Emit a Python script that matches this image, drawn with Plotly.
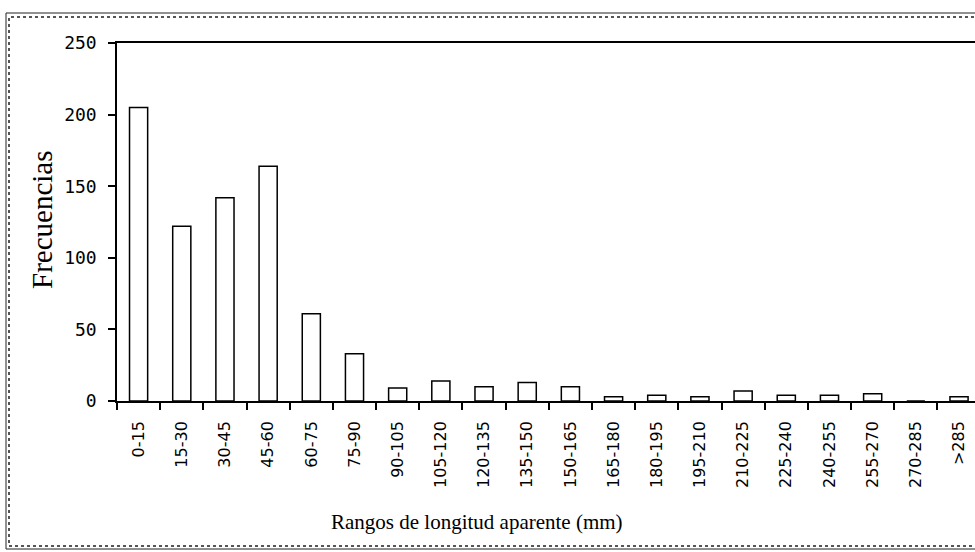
import plotly.graph_objects as go

categories = ["0-15", "15-30", "30-45", "45-60", "60-75", "75-90", "90-105", "105-120",
              "120-135", "135-150", "150-165", "165-180", "180-195", "195-210", "210-225",
              "225-240", "240-255", "255-270", "270-285", ">285"]
frecuencias = [205, 122, 142, 164, 61, 33, 9, 14, 10, 13, 10, 3, 4, 3, 7, 4, 4, 5, 0, 3]
y_ticks = [0, 50, 100, 150, 200, 250]

W, H = 975, 552
L, T, B = 117, 43, 151
plot_w = W - L
plot_h = H - T - B


def px_x(x):
    return (x - L) / plot_w


def px_y(y):
    return (H - B - y) / plot_h


fig = go.Figure()
fig.add_trace(go.Bar(
    x=categories, y=frecuencias,
    marker=dict(color="white", line=dict(color="black", width=1.5)),
    width=0.42,
))

fig.update_layout(
    width=W, height=H,
    margin=dict(l=L, r=0, t=T, b=B),
    paper_bgcolor="white", plot_bgcolor="white",
    showlegend=False,
    font=dict(color="black"),
)
fig.update_xaxes(
    type="category", range=[-0.5, 19.37],
    tickson="boundaries", ticks="outside", ticklen=7, tickwidth=1.5, tickcolor="black",
    tickangle=-90, tickfont=dict(family="DejaVu Sans", size=16, color="black"),
    ticklabelstandoff=12,
    showline=True, linecolor="black", linewidth=1.5, mirror=True,
    showgrid=False, zeroline=False,
)
fig.update_yaxes(
    range=[0, 250], tickvals=y_ticks,
    ticks="outside", ticklen=7, tickwidth=1.5, tickcolor="black",
    tickfont=dict(family="DejaVu Sans Mono", size=18, color="black"),
    ticklabelstandoff=8,
    showline=True, linecolor="black", linewidth=1.5,
    showgrid=False, zeroline=False,
)

fig.add_annotation(
    text="Rangos de longitud aparente (mm)", xref="paper", yref="paper",
    x=px_x(477), y=px_y(522), xanchor="center", yanchor="middle", showarrow=False,
    font=dict(family="Liberation Serif", size=21, color="black"),
)
fig.add_annotation(
    text="Frecuencias", xref="paper", yref="paper",
    x=px_x(42), y=px_y(220), xanchor="center", yanchor="middle", showarrow=False,
    textangle=-90,
    font=dict(family="Liberation Serif", size=29, color="black"),
)

# outer frame
fig.add_shape(type="rect", xref="paper", yref="paper",
              x0=px_x(6), x1=px_x(980), y0=px_y(549), y1=px_y(13),
              line=dict(color="#222", width=1), layer="below")
fig.add_shape(type="rect", xref="paper", yref="paper",
              x0=px_x(9), x1=px_x(980), y0=px_y(546), y1=px_y(17),
              line=dict(color="#555", width=2, dash="dot"), layer="below")

fig.write_html("out.html",
               config={"displayModeBar": False},
               post_script="document.body.style.margin='0';document.body.style.overflow='hidden';")
